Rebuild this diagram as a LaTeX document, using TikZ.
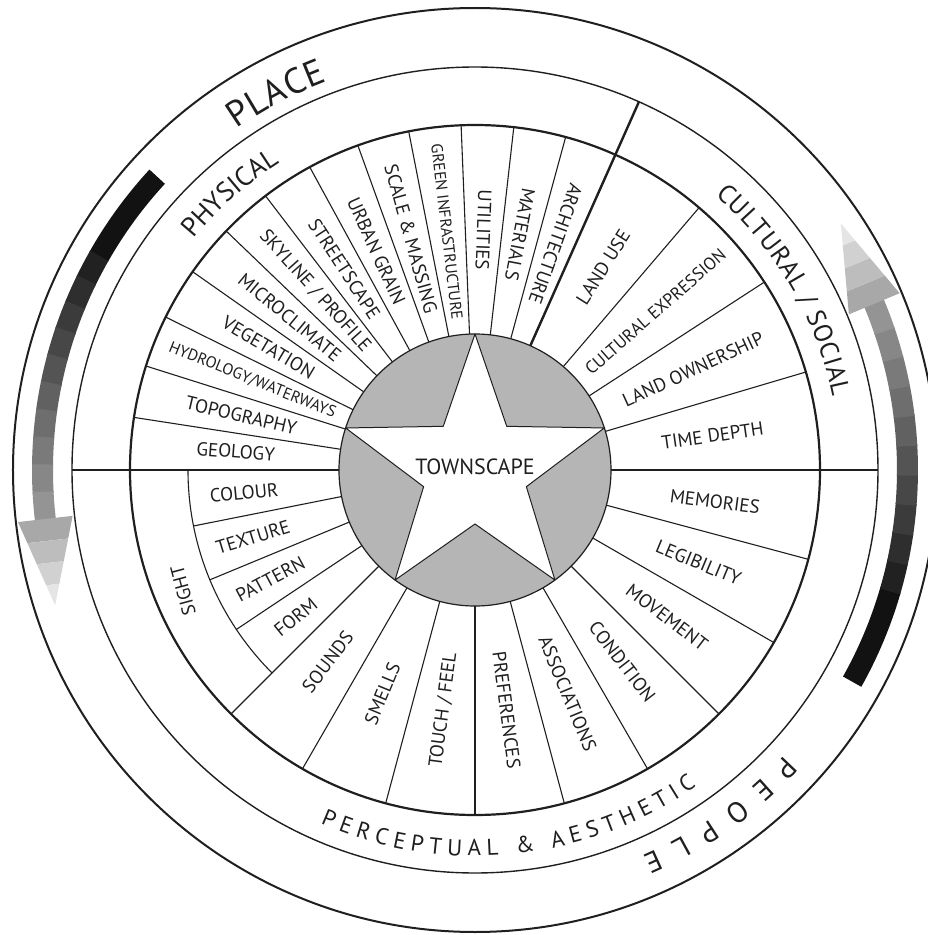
\documentclass[tikz,border=0pt]{standalone}
\usepackage{fontspec}
\setmainfont{PT Sans}
\usetikzlibrary{decorations.text}
\definecolor{hubgray}{gray}{0.71}
\definecolor{inkc}{gray}{0.12}

\newcommand\bandseg[3]{\fill[#3] ({#1}:422pt) arc[start angle={#1}, end angle={#2}, radius=422pt] -- ({#2}:443pt) arc[start angle={#2}, end angle={#1}, radius=443pt] -- cycle;}
\newcommand\gradarrow[2]{%
  \pgfmathsetmacro\ga{#1+13}%
  \pgfmathsetmacro\gs{(#2-\ga)/10}%
  \pgfmathsetmacro\gb{\ga+0.2}%
  \bandseg{#1}{\gb}{black!93}
  \foreach \k in {0,...,9}{
    \pgfmathsetmacro\aa{\ga+\k*\gs}
    \pgfmathsetmacro\bb{\aa+\gs+0.2}
    \pgfmathtruncatemacro\cc{87-5*\k}
    \bandseg{\aa}{\bb}{black!\cc}
  }
  \begin{scope}[shift={(#2:432.5pt)}, rotate={#2+90}]
    \clip (0pt,-27.5pt) -- (0pt,27.5pt) -- (87pt,0pt) -- cycle;
    \fill[black!34] (-0.5pt,-30pt) rectangle (22pt,30pt);
    \fill[black!26] (22pt,-30pt) rectangle (44pt,30pt);
    \fill[black!18] (44pt,-30pt) rectangle (66pt,30pt);
    \fill[black!10] (66pt,-30pt) rectangle (88pt,30pt);
  \end{scope}
}

\begin{document}
\begin{tikzpicture}[
  line join=round,
  itemline/.style={line width=1.1pt, draw=inkc},
  divline/.style={line width=2.4pt, draw=inkc},
  item/.style={inner sep=0pt, text=inkc, font=\fontsize{19}{19}\selectfont},
  smallitem/.style={item, font=\fontsize{16}{16}\selectfont},
]
\useasboundingbox (-475pt,-465pt) rectangle (453pt,470pt);
\begin{scope}
\clip (-475pt,-465pt) rectangle (453pt,470pt);

% rings
\draw[line width=2pt, inkc] (0,0) circle[radius=462pt];
\draw[line width=1.4pt, inkc] (0,0) circle[radius=403pt];
\draw[line width=2.2pt, inkc] (0,0) circle[radius=345pt];

% gradient arrows
\gradarrow{137.3}{186.5}
\gradarrow{-29.3}{22.6}

% physical item lines
\foreach \i in {1,...,12}
  \draw[itemline] ({66+\i*114/13}:136pt) -- ({66+\i*114/13}:345pt);
% cultural item lines
\foreach \a in {16.5,33,49.5}
  \draw[itemline] (\a:136pt) -- (\a:345pt);
% perceptual item lines
\foreach \a in {-15,-30,-45,-60,-75,-90,-105,-120,-135}
  \draw[itemline] (\a:136pt) -- (\a:345pt);
\foreach \a in {191.25,202.5,213.75}
  \draw[itemline] (\a:136pt) -- (\a:287pt);
\draw[itemline] (180:287pt) arc[start angle=180, end angle=225, radius=287pt];

% main dividers
\draw[divline] (66:136pt) -- (66:403pt);
\draw[divline] (180:136pt) -- (180:403pt);
\draw[divline] (0:136pt) -- (0:403pt);

% hub
\fill[hubgray] (0,0) circle[radius=136pt];
\filldraw[fill=white, draw=inkc, line width=1pt]
  (90:136pt) -- (126:54pt) -- (162:136pt) -- (198:54pt) -- (234:136pt) -- (270:54pt)
  -- (306:136pt) -- (342:54pt) -- (18:136pt) -- (54:54pt) -- cycle;
\draw[line width=1.2pt, inkc] (0,0) circle[radius=136pt];
\node[item, font=\fontsize{22}{22}\selectfont] (hub) at (0pt,3pt) {TOWNSCAPE};

% physical labels
\node[item, rotate=-4.385] (geology) at (175.615:240pt) {GEOLOGY};
\node[item, rotate=-13.154] (topography) at (166.846:240pt) {TOPOGRAPHY};
\node[smallitem, rotate=-21.923] (hydrology) at (158.077:240pt) {HYDROLOGY/WATERWAYS};
\node[item, rotate=-30.692] (vegetation) at (149.308:240pt) {VEGETATION};
\node[item, rotate=-39.462] (microclimate) at (140.538:240pt) {MICROCLIMATE};
\node[item, rotate=-48.231] (skyline) at (131.769:240pt) {SKYLINE / PROFILE};
\node[item, rotate=-57] (streetscape) at (123:240pt) {STREETSCAPE};
\node[item, rotate=-65.769] (urbangrain) at (114.231:240pt) {URBAN GRAIN};
\node[item, rotate=-74.538] (scale) at (105.462:240pt) {SCALE \& MASSING};
\node[smallitem, rotate=-83.308] (greeninfra) at (96.692:240pt) {GREEN INFRASTRUCTURE};
\node[item, rotate=-92.077] (utilities) at (87.923:240pt) {UTILITIES};
\node[item, rotate=-100.846] (materials) at (79.154:240pt) {MATERIALS};
\node[item, rotate=-109.615] (architecture) at (70.385:240pt) {ARCHITECTURE};

% cultural labels
\node[item, rotate=57.75] (landuse) at (57.75:240pt) {LAND USE};
\node[item, font=\fontsize{17.5}{17.5}\selectfont, rotate=41.25] (culturalexp) at (41.25:240pt) {CULTURAL EXPRESSION};
\node[item, rotate=24.75] (landown) at (24.75:240pt) {LAND OWNERSHIP};
\node[item, rotate=8.25] (timedepth) at (8.25:240pt) {TIME DEPTH};

% perceptual labels
\node[item, rotate=-7.5] (memories) at (-7.5:242pt) {MEMORIES};
\node[item, rotate=-22.5] (legibility) at (-22.5:242pt) {LEGIBILITY};
\node[item, rotate=-37.5] (movement) at (-37.5:242pt) {MOVEMENT};
\node[item, rotate=-52.5] (condition) at (-52.5:242pt) {CONDITION};
\node[item, rotate=-67.5] (associations) at (-67.5:242pt) {ASSOCIATIONS};
\node[item, rotate=-82.5] (preferences) at (-82.5:242pt) {PREFERENCES};
\node[item, rotate=82.5] (touch) at (-97.5:242pt) {TOUCH / FEEL};
\node[item, rotate=67.5] (smells) at (-112.5:242pt) {SMELLS};
\node[item, rotate=52.5] (sounds) at (-127.5:242pt) {SOUNDS};
\node[item, rotate=5.625] (colour) at (185.625:232pt) {COLOUR};
\node[item, rotate=16.875] (texture) at (196.875:232pt) {TEXTURE};
\node[item, rotate=28.125] (pattern) at (208.125:232pt) {PATTERN};
\node[item, rotate=39.375] (form) at (219.375:232pt) {FORM};
\node[item, rotate=105] (sight) at (202.5:316pt) {SIGHT};

% arc labels
\path[decorate, decoration={text along path, text align={fit to path},
  text={|\fontsize{36}{36}\selectfont\color{inkc}|PLACE}}]
  (124.9:416pt) arc[start angle=124.9, end angle=110.8, radius=416pt];
\path[decorate, decoration={text along path, text align={fit to path},
  text={|\fontsize{27}{27}\selectfont\color{inkc}|PHYSICAL}}]
  (140.6:364pt) arc[start angle=140.6, end angle=122.6, radius=364pt];
\path[decorate, decoration={text along path, text align={fit to path},
  text={|\fontsize{26}{26}\selectfont\color{inkc}|CULTURAL / SOCIAL}}]
  (48.8:365pt) arc[start angle=48.8, end angle=11.6, radius=365pt];
\path[decorate, decoration={text along path, text align={fit to path},
  text={|\fontsize{23}{23}\selectfont\color{inkc}|PERCEPTUAL {\&} AESTHETIC}}]
  (-113.6:386pt) arc[start angle=-113.6, end angle=-55.0, radius=386pt];
\path[decorate, decoration={text along path, text align={fit to path},
  text={|\fontsize{29}{29}\selectfont\color{inkc}|PEOPLE}}]
  (-42.6:421pt) arc[start angle=-42.6, end angle=-66.6, radius=421pt];
\end{scope}
\end{tikzpicture}
\end{document}
